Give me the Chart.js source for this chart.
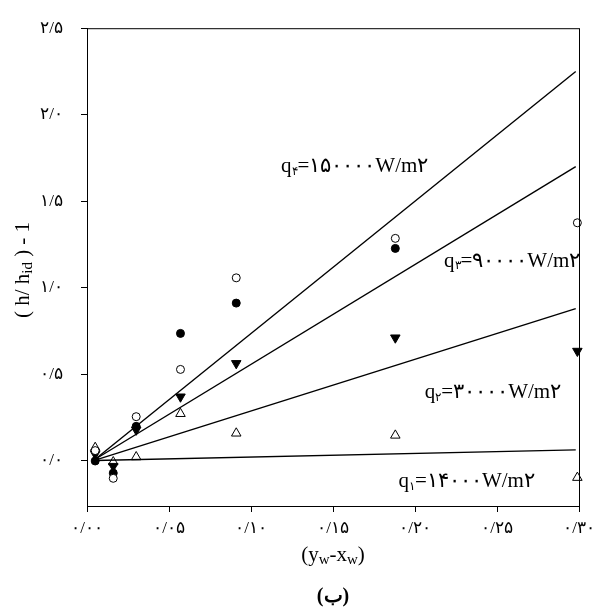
<!DOCTYPE html>
<html>
<head>
<meta charset="utf-8">
<script src="https://cdn.jsdelivr.net/npm/chart.js@4"></script>
<style>
body{margin:0;background:#fff}
#wrap{width:607px;height:615px}
</style>
</head>
<body>
<div id="wrap"><canvas id="c" width="607" height="615"></canvas></div>
<script>

// x positions of the measurements (y_w - x_w)
const xVals = [0.005, 0.016, 0.03, 0.057, 0.091, 0.188, 0.299]

// (h/h_id) - 1 for each heat flux
const openCircles   = [0.06, -0.10, 0.256, 0.529, 1.058, 1.286, 1.376]
const filledCircles = [0.00, -0.07, 0.20, 0.737, 0.912, 1.228, null]
const filledTri     = [0.04, -0.03, 0.18, 0.371, 0.564, 0.712, 0.635]
const openTri       = [0.077, -0.006, 0.023, 0.273, 0.16, 0.148, -0.096]

// fitted lines: start and end
const lineX  = [0.005, 0.298]
const lineQ4 = [0.01, 2.25]
const lineQ3 = [0.01, 1.70]
const lineQ2 = [0.005, 0.88]
const lineQ1 = [0.003, 0.064]

const xTicks = [0, 0.05, 0.10, 0.15, 0.20, 0.25, 0.30]
const xTickLabels = ["۰/۰۰","۰/۰۵","۰/۱۰","۰/۱۵","۰/۲۰","۰/۲۵","۰/۳۰"]
const yTicks = [0, 0.5, 1.0, 1.5, 2.0, 2.5]
const yTickLabels = ["۰/۰","۰/۵","۱/۰","۱/۵","۲/۰","۲/۵"]

// line labels: subscript digit, value text, anchor (x, y) in data units
const qSub   = ["۴", "۳", "۲", "۱"]
const qText  = ["=۱۵۰۰۰۰W/m۲", "=۹۰۰۰۰W/m۲", "=۳۰۰۰۰W/m۲", "=۱۴۰۰۰W/m۲"]
const qAtX   = [0.1183, 0.2177, 0.206, 0.190]
const qAtY   = [1.70, 1.155, 0.393, -0.121]

const serif = "'Liberation Serif', 'DejaVu Serif', serif"

function pts(xs, ys){
  return xs.map((x,i)=>({x:x, y:ys[i]})).filter(p=>p.y!==null)
}

function lineSet(ys){
  return {type:"line", data:pts(lineX, ys), borderColor:"#000", borderWidth:1.4,
    pointRadius:0, fill:false, showLine:true, tension:0}
}

const extras = {
  id:"extras",
  afterDraw(chart){
    const ctx = chart.ctx
    const a = chart.chartArea
    const xs = chart.scales.x, ys = chart.scales.y
    ctx.save()
    // frame
    ctx.strokeStyle = "#000"
    ctx.lineWidth = 1
    ctx.strokeRect(a.left+0.5, a.top+0.5, a.right-a.left, a.bottom-a.top)

    ctx.fillStyle = "#000"
    ctx.textBaseline = "middle"

    // line labels
    for(let i=0;i<qSub.length;i++){
      let px = xs.getPixelForValue(qAtX[i])
      let py = ys.getPixelForValue(qAtY[i])
      ctx.textAlign = "left"
      ctx.font = "21px " + serif
      ctx.fillText("q", px, py)
      px += ctx.measureText("q").width
      ctx.font = "12px " + serif
      ctx.fillText(qSub[i], px, py+5)
      px += ctx.measureText(qSub[i]).width
      ctx.font = "21px " + serif
      ctx.fillText(qText[i], px, py)
    }

    // x title (y_w-x_w)
    const cx = (a.left+a.right)/2
    const ty = 555
    const parts = [["(y",21,0],["w",15,5],["-x",21,0],["w",15,5],[")",21,0]]
    let total = 0
    parts.forEach(p=>{ctx.font = p[1]+"px "+serif; total += ctx.measureText(p[0]).width})
    let tx = cx - total/2
    ctx.textAlign = "left"
    parts.forEach(p=>{
      ctx.font = p[1]+"px "+serif
      ctx.fillText(p[0], tx, ty+p[2])
      tx += ctx.measureText(p[0]).width
    })

    // figure letter
    ctx.textAlign = "center"
    ctx.font = "bold 20px " + serif
    ctx.fillText("(ب)", cx, 597)

    // y title ( h/ h_id ) - 1
    ctx.translate(23, 270)
    ctx.rotate(-Math.PI/2)
    const yparts = [["( h/ h",21,0],["id",15,5],[" ) - 1",21,0]]
    total = 0
    yparts.forEach(p=>{ctx.font = p[1]+"px "+serif; total += ctx.measureText(p[0]).width})
    tx = -total/2
    ctx.textAlign = "left"
    yparts.forEach(p=>{
      ctx.font = p[1]+"px "+serif
      ctx.fillText(p[0], tx, p[2])
      tx += ctx.measureText(p[0]).width
    })
    ctx.restore()
  }
}

new Chart(document.getElementById("c"), {
  type:"scatter",
  data:{
    datasets:[
      lineSet(lineQ4), lineSet(lineQ3), lineSet(lineQ2), lineSet(lineQ1),
      {label:"q4", data:pts(xVals, openCircles), pointStyle:"circle", pointRadius:4, clip:false,
        backgroundColor:"#fff", borderColor:"#000", borderWidth:1},
      {label:"q3", data:pts(xVals, filledCircles), pointStyle:"circle", pointRadius:4, clip:false,
        backgroundColor:"#000", borderColor:"#000", borderWidth:1},
      {label:"q2", data:pts(xVals, filledTri), pointStyle:"triangle", rotation:180, pointRadius:5.5, clip:false,
        backgroundColor:"#000", borderColor:"#000", borderWidth:1},
      {label:"q1", data:pts(xVals, openTri), pointStyle:"triangle", pointRadius:5.5, clip:false,
        backgroundColor:"#fff", borderColor:"#000", borderWidth:1}
    ]
  },
  options:{
    responsive:false,
    animation:false,
    layout:{padding:{left:0, top:27, right:28, bottom:0}},
    plugins:{legend:{display:false}, tooltip:{enabled:false}},
    scales:{
      x:{
        type:"linear", min:0, max:0.3,
        afterBuildTicks(axis){ axis.ticks = xTicks.map(v=>({value:v})) },
        afterFit(axis){ axis.height = 109 },
        border:{color:"#000", width:1},
        grid:{drawOnChartArea:false, color:"#000", tickLength:6},
        ticks:{color:"#000", padding:6, maxRotation:0, autoSkip:false,
          font:{family:serif, size:17},
          callback:(v)=>{ const i = xTicks.findIndex(t=>Math.abs(t-v)<1e-9); return i<0 ? "" : xTickLabels[i] }}
      },
      y:{
        type:"linear", min:-0.26, max:2.5,
        afterBuildTicks(axis){ axis.ticks = yTicks.map(v=>({value:v})) },
        afterFit(axis){ axis.width = 87 },
        border:{color:"#000", width:1},
        grid:{drawOnChartArea:false, color:"#000", tickLength:6},
        ticks:{color:"#000", padding:18, autoSkip:false,
          font:{family:serif, size:17},
          callback:(v)=>{ const i = yTicks.findIndex(t=>Math.abs(t-v)<1e-9); return i<0 ? "" : yTickLabels[i] }}
      }
    }
  },
  plugins:[extras]
})
</script>
</body>
</html>
